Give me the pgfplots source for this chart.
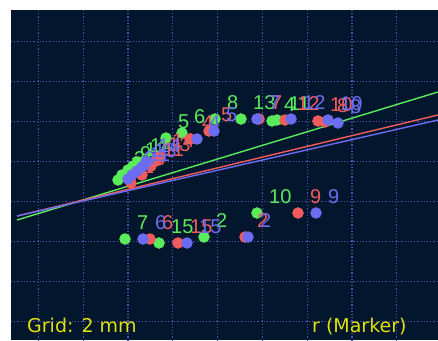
\documentclass[border=0pt]{standalone}
\usepackage{pgfplots}
\pgfplotsset{compat=1.18}
\usepackage{fontspec}
\setmainfont{DejaVu Sans}
\newfontfamily\lblfont{Liberation Sans}
\usetikzlibrary{calc}
\definecolor{bg}{RGB}{2,22,46}
\definecolor{gridc}{RGB}{80,80,180}
\definecolor{cg}{RGB}{90,235,90}
\definecolor{cr}{RGB}{240,92,92}
\definecolor{cb}{RGB}{108,108,240}
\definecolor{ytext}{RGB}{225,225,10}

\pgfplotstableread{
x y l
118 180 1
122 175 3
128 170 9
133 166 12
138 162 14
166 138 5
182 133 6
215 119 8
241 119 13
272 121 4
277 120 11
125 239 7
159 243 15
204 237 2
257 213 10
}\green
\pgfplotstableread{
x y l
131 183 1
142 175 3
151 166 11
156 161 13
160 157 14
190 139 4
209 131 5
259 119 7
285 120 12
318 121 10
325 122 8
150 239 6
178 243 15
245 237 2
298 213 9
}\red
\pgfplotstableread{
x y l
128 179 1
132 175 3
137 171 11
142 167 13
146 162 14
197 139 4
214 131 5
257 119 7
291 119 12
328 120 10
338 123 8
143 239 6
187 243 15
248 237 2
316 213 9
}\blue

\begin{document}
\begin{tikzpicture}
\begin{axis}[
  scale only axis, width=427pt, height=330pt,
  xmin=11, xmax=438, ymin=10, ymax=340, y dir=reverse,
  axis background/.style={fill=bg},
  axis line style={draw=none},
  xtick={38.3,83.1,127.9,172.7,217.5,262.3,307.1,351.9,396.7},
  ytick={41.7,81.7,121.7,161.7,201.7,241.7,281.7,321.7},
  xticklabels={}, yticklabels={},
  major tick length=0pt,
  grid=major,
  grid style={gridc, line width=1.2pt, dash pattern=on 1.2pt off 2pt},
  every node near coord/.append style={anchor=south west, inner sep=0pt,
     xshift=12pt, yshift=9pt, font=\lblfont\fontsize{20}{20}\selectfont},
]
\addplot[cg, line width=1.4pt] coordinates {(17,220) (438,92)};
\addplot[cr, line width=1.4pt] coordinates {(17,216) (438,115)};
\addplot[cb, line width=1.4pt] coordinates {(17,216) (438,120)};

\addplot[only marks, mark=*, mark size=5.5pt, color=cg, mark options={draw=cg, fill=cg},
  nodes near coords, point meta=explicit symbolic] table[x=x, y=y, meta=l] {\green};
\addplot[only marks, mark=*, mark size=5.5pt, color=cr, mark options={draw=cr, fill=cr},
  nodes near coords, point meta=explicit symbolic] table[x=x, y=y, meta=l] {\red};
\addplot[only marks, mark=*, mark size=5.5pt, color=cb, mark options={draw=cb, fill=cb},
  nodes near coords, point meta=explicit symbolic] table[x=x, y=y, meta=l] {\blue};

\node[anchor=base west, inner sep=0pt, text=ytext, font=\fontsize{19}{20}\selectfont] at (axis cs:27,332) {Grid: 2 mm};
\node[anchor=base west, inner sep=0pt, text=ytext, font=\fontsize{19}{20}\selectfont] at (axis cs:312,332) {r (Marker)};
\end{axis}
\pgfresetboundingbox
\path[use as bounding box] ($(current axis.south west)+(-11pt,0pt)$) rectangle ($(current axis.north east)+(0pt,10pt)$);
\end{tikzpicture}
\end{document}
